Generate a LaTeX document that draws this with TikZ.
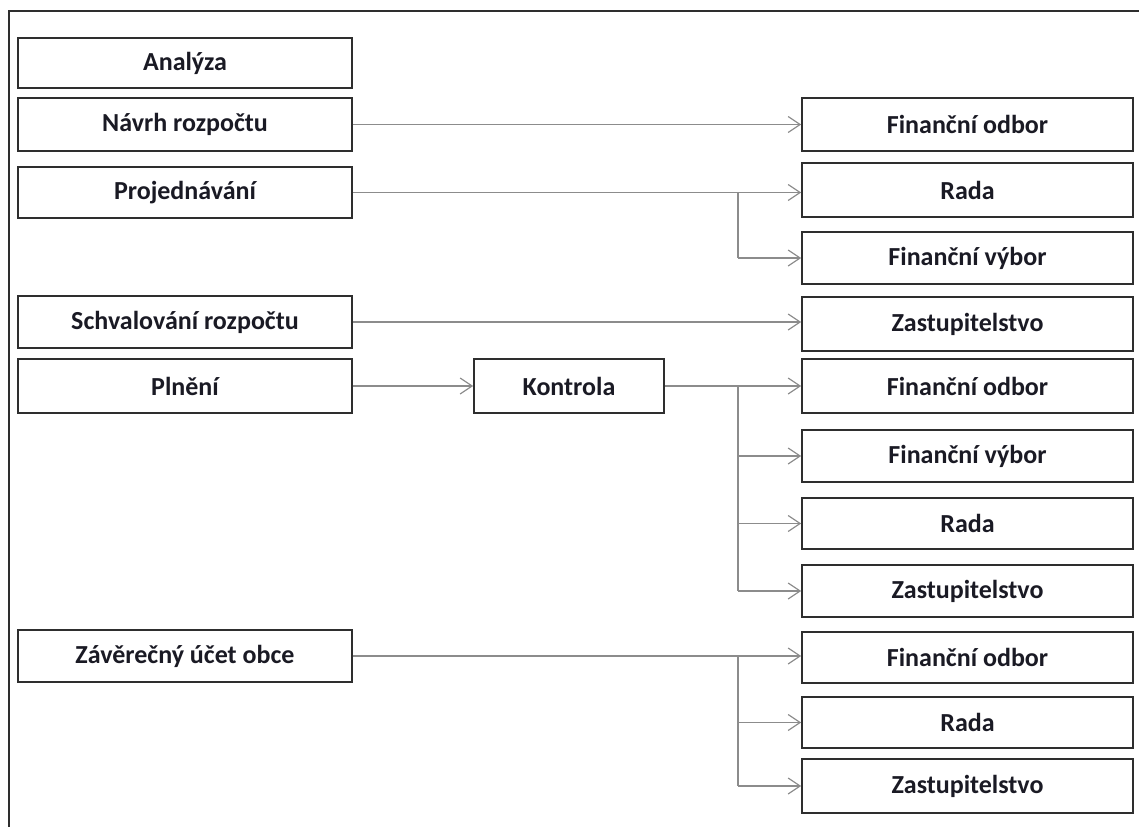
\documentclass[tikz,border=0pt]{standalone}
\usepackage{fontspec}
\setmainfont{Carlito}
\usetikzlibrary{arrows.meta}
\definecolor{edge}{HTML}{2E2E2E}
\definecolor{wire}{HTML}{8C8C8C}
\definecolor{ink}{HTML}{1A1A24}
\tikzset{
  stage/.style={draw=edge, line width=1.6pt, fill=white, minimum width=334pt,
    minimum height=#1, inner sep=0pt, text=ink, font=\fontsize{26}{30}\selectfont\bfseries},
  stage/.default=52pt,
  organ/.style={stage=#1, minimum width=331pt},
  organ/.default=52pt,
  flow/.style={draw=wire, line width=1.3pt, -{Straight Barb[length=12pt,width=16pt,line width=1.2pt]}},
  wire/.style={draw=wire, line width=1.3pt}
}
\begin{document}
\begin{tikzpicture}[x=1pt, y=-1pt]
\useasboundingbox (0,0) rectangle (1139,827);
% outer frame (top and left sides only)
\draw[edge, line width=1.8pt] (1139,11) -- (9,11) -- (9,827);

% process stages on the left
\node[stage=50pt] (analyza) at (185,63)  {Analýza};
\node[stage=53pt] (navrh)   at (185,124.5) {Návrh rozpočtu};
\node[stage=51pt] (proj)    at (185,192.5) {Projednávání};
\node[stage=52pt] (schval)  at (185,322) {Schvalování rozpočtu};
\node[stage=54pt] (plneni)  at (185,386) {Plnění};
\node[stage=54pt, minimum width=190pt] (kontrola) at (569,386) {Kontrola};
\node[stage=52pt] (zaver)   at (185,656) {Závěrečný účet obce};

% responsible bodies on the right
\node[organ=53pt] (fo1)  at (967.5,124.5) {Finanční odbor};
\node[organ=54pt] (rada1) at (967.5,190) {Rada};
\node[organ=52pt] (fv1)  at (967.5,258) {Finanční výbor};
\node[organ=54pt] (zast1) at (967.5,324) {Zastupitelstvo};
\node[organ=54pt] (fo2)  at (967.5,386) {Finanční odbor};
\node[organ=52pt] (fv2)  at (967.5,456) {Finanční výbor};
\node[organ=51pt] (rada2) at (967.5,523.5) {Rada};
\node[organ=52pt] (zast2) at (967.5,591) {Zastupitelstvo};
\node[organ=51pt] (fo3)  at (967.5,657.5) {Finanční odbor};
\node[organ=51pt] (rada3) at (967.5,722.5) {Rada};
\node[organ=54pt] (zast3) at (967.5,786) {Zastupitelstvo};

% branch points
\coordinate (bp) at (738,0);

% connectors
\draw[flow] (navrh.east) -- (navrh.east -| fo1.west);
\draw[flow] (proj.east) -- (proj.east -| rada1.west);
\draw[wire] (proj.east -| bp) -- (fv1.west -| bp);
\draw[flow] (fv1.west -| bp) -- (fv1.west);
\draw[flow] (schval.east) -- (schval.east -| zast1.west);
\draw[flow] (plneni.east) -- (kontrola.west);
\draw[flow] (kontrola.east) -- (kontrola.east -| fo2.west);
\draw[wire] (kontrola.east -| bp) -- (zast2.west -| bp);
\draw[flow] (fv2.west -| bp) -- (fv2.west);
\draw[flow] (rada2.west -| bp) -- (rada2.west);
\draw[flow] (zast2.west -| bp) -- (zast2.west);
\draw[flow] (zaver.east) -- (zaver.east -| fo3.west);
\draw[wire] (zaver.east -| bp) -- (zast3.west -| bp);
\draw[flow] (rada3.west -| bp) -- (rada3.west);
\draw[flow] (zast3.west -| bp) -- (zast3.west);
\end{tikzpicture}
\end{document}
